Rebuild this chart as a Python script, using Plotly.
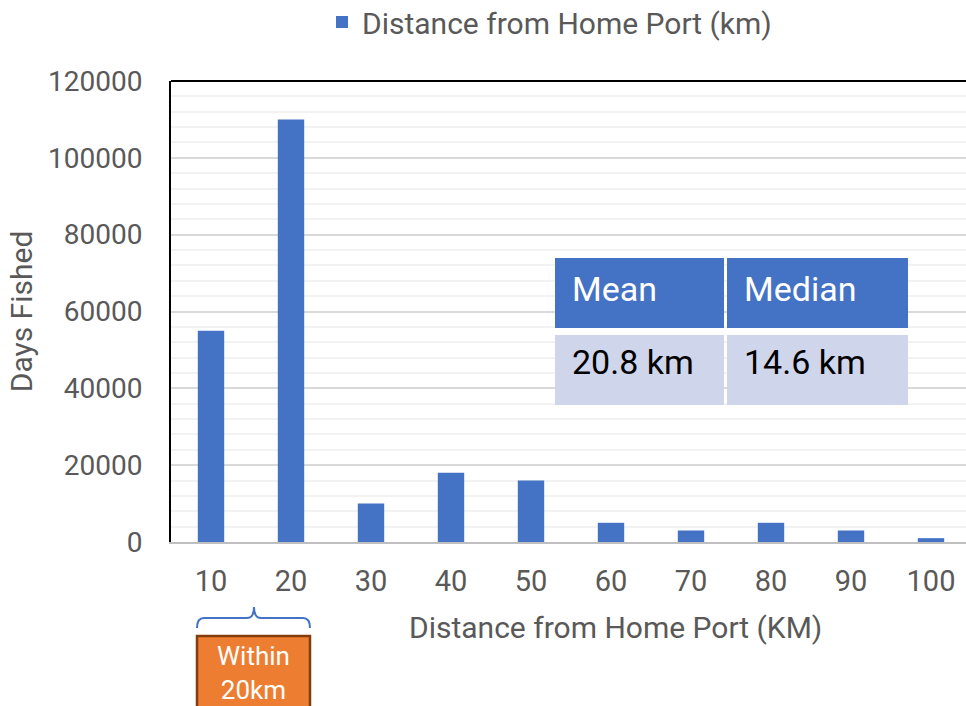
import plotly.graph_objects as go

categories = ["10", "20", "30", "40", "50", "60", "70", "80", "90", "100"]
days_fished = [55000, 110000, 10000, 18000, 16000, 5000, 3000, 5000, 3000, 1000]
series_name = "Distance from Home Port (km)"
x_title = "Distance from Home Port (KM)"
y_title = "Days Fished"
y_ticks = [0, 20000, 40000, 60000, 80000, 100000, 120000]
table_header = ["Mean", "Median"]
table_values = ["20.8 km", "14.6 km"]
bracket_label = "Within<br>20km"

W, H = 966, 706
L, R, T = 171, 0, 81
B = H - 542
pw = W - L - R
ph = H - T - B

def px(x):
    return (x - L) / pw

def py(y):
    return (H - B - y) / ph

BLUE = "#4472C4"
GRAY = "#595959"
FONT = "Roboto"
FS = 30

fig = go.Figure()
fig.add_trace(go.Bar(
    x=categories, y=days_fished, name=series_name,
    marker=dict(color=BLUE, line=dict(width=0)),
    showlegend=True,
))

shapes = []
annotations = []

# top border of plot area
shapes.append(dict(type="line", xref="paper", yref="paper", x0=0, x1=1, y0=1, y1=1,
                   line=dict(color="black", width=2)))

# table
cols = [(555, 724), (727, 908)]
hdr = (258, 328)
body = (335, 405)
for i, (x0, x1) in enumerate(cols):
    shapes.append(dict(type="rect", xref="paper", yref="paper", x0=px(x0), x1=px(x1),
                       y0=py(hdr[1]), y1=py(hdr[0]), fillcolor=BLUE, line=dict(width=0), layer="above"))
    shapes.append(dict(type="rect", xref="paper", yref="paper", x0=px(x0), x1=px(x1),
                       y0=py(body[1]), y1=py(body[0]), fillcolor="#CFD5EA", line=dict(width=0), layer="above"))
    annotations.append(dict(xref="paper", yref="paper", x=px(x0 + 15), y=py(289), xanchor="left",
                            yanchor="middle", text=table_header[i], showarrow=False,
                            font=dict(family=FONT, size=34, color="white")))
    annotations.append(dict(xref="paper", yref="paper", x=px(x0 + 15), y=py(362), xanchor="left",
                            yanchor="middle", text=table_values[i], showarrow=False,
                            font=dict(family=FONT, size=34, color="black")))

# x axis title
annotations.append(dict(xref="paper", yref="paper", x=px(615), y=py(627), xanchor="center",
                        yanchor="middle", text=x_title, showarrow=False,
                        font=dict(family=FONT, size=FS, color=GRAY)))

# bracket
bx0, bx1, bxc = 197, 310, 254
byt, bym, byb = 607, 618, 628
d = 7
path = (f"M{px(bx0)},{py(byb)} Q{px(bx0)},{py(bym)} {px(bx0 + d)},{py(bym)} "
        f"L{px(bxc - d)},{py(bym)} Q{px(bxc)},{py(bym)} {px(bxc)},{py(byt)} "
        f"Q{px(bxc)},{py(bym)} {px(bxc + d)},{py(bym)} "
        f"L{px(bx1 - d)},{py(bym)} Q{px(bx1)},{py(bym)} {px(bx1)},{py(byb)}")
shapes.append(dict(type="path", xref="paper", yref="paper", path=path,
                   line=dict(color=BLUE, width=2)))

# orange box
shapes.append(dict(type="rect", xref="paper", yref="paper", x0=px(197), x1=px(310),
                   y0=py(720), y1=py(636), fillcolor="#ED7D31", line=dict(color="#843C0C", width=2.5)))
annotations.append(dict(xref="paper", yref="paper", x=px(253.5), y=py(673), xanchor="center",
                        yanchor="middle", text=bracket_label, showarrow=False, align="center",
                        font=dict(family=FONT, size=26, color="white")))

fig.update_layout(
    width=W, height=H,
    margin=dict(l=L, r=R, t=T, b=B, pad=0, autoexpand=False),
    paper_bgcolor="white", plot_bgcolor="white",
    font=dict(family=FONT, size=FS, color=GRAY),
    bargap=0.67,
    showlegend=True,
    legend=dict(orientation="h", x=px(322), xanchor="left", y=py(22), yanchor="middle",
                font=dict(family=FONT, size=FS, color=GRAY), bgcolor="rgba(0,0,0,0)"),
    shapes=shapes,
    annotations=annotations,
)
fig.update_xaxes(
    range=[-0.5, -0.5 + pw / 80], showgrid=False, showline=True, linecolor="#BFBFBF", linewidth=2,
    ticks="", ticklabelstandoff=12, tickfont=dict(family=FONT, size=FS - 1, color=GRAY),
)
fig.update_yaxes(
    range=[0, 120000], tickvals=y_ticks, ticktext=[str(v) for v in y_ticks],
    showgrid=True, gridcolor="#D9D9D9", gridwidth=1.5,
    zeroline=False, showline=True, linecolor="black", linewidth=2,
    ticks="", ticklabelstandoff=21, tickfont=dict(family=FONT, size=28, color=GRAY),
    minor=dict(dtick=4000, tick0=0, showgrid=True, gridcolor="#F2F2F2", gridwidth=1.5),
    title=dict(text=y_title, standoff=6, font=dict(family=FONT, size=FS, color=GRAY)),
)

fig.write_html(
    "out.html",
    config={"displayModeBar": False},
    post_script="document.body.style.margin='0';document.body.style.overflow='hidden';",
)
